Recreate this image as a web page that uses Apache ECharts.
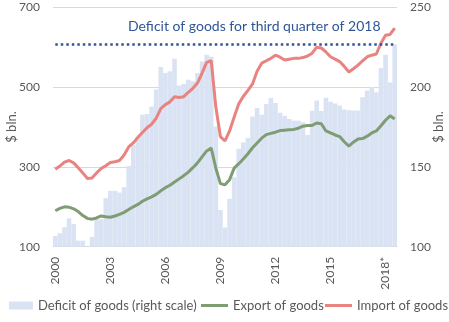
<!DOCTYPE html>
<html>
<head>
<meta charset="utf-8">
<script src="https://cdn.jsdelivr.net/npm/echarts@6/dist/echarts.min.js"></script>
<style>
html,body{margin:0;padding:0;background:#fff;}
#c{width:449px;height:322px;}
</style>
</head>
<body>
<div id="c"></div>
<script>
// Quarterly data 2000Q1 .. 2018Q3
const years = [];
for (let y = 2000; y <= 2018; y++) years.push(y);
const categories = [];
years.forEach(y => { for (let q = 1; q <= 4; q++) categories.push(y + ' Q' + q); });
categories.length = 75;

const tickLabels = ['2000', '2003', '2006', '2009', '2012', '2015', '2018*'];

// Deficit of goods, $ bln (right scale)
const deficit = [
  106.7,108.4,112.2,117.8,114.2,103.8,103.8,100,106.1,117.2,
  117.2,130.4,135,135,133.9,137.3,150.6,163.8,168.7,182.7,
  183.1,187.9,198.5,212.6,208.8,209.9,217.8,201,202,204.6,
  203.6,208.8,216,220.3,219,175.3,123,112,130,143.5,
  161.3,165.3,168.2,181.6,186.9,182.7,189.4,193.2,190,184,
  182,180,179,179,178,170,185.2,191.6,185,193.3,
  190.8,189.8,188.4,186,185.5,185.3,185.3,193.7,197.8,200,
  196.8,212,220.3,202.9,226.8
];

// Export of goods, $ bln (left scale)
const exportsG = [
  190,196,200,199,195,188,178,171,169,172,
  177,175,174,177,181,186,193,200,206,214,
  220,225,231,240,248,254,262,270,278,287,
  298,310,325,340,347,297,258,255,268,297,
  308,320,333,348,360,372,381,384,387,391,
  392,393,394,397,402,404,404,410,408,390,
  385,380,376,363,352,362,370,371,377,385,
  390,403,417,428,420
];

// Import of goods, $ bln (left scale)
const importsG = [
  294,302,312,316,310,298,285,271,272,285,
  296,303,311,313,316,330,350,360,374,386,
  398,407,422,446,456,463,476,474,476,487,
  497,510,535,562,566,450,376,365,390,425,
  458,477,492,508,540,560,566,572,580,575,
  568,570,572,572,574,578,585,600,598,588,
  576,570,564,552,538,546,555,566,576,580,
  583,610,630,632,648
];

const deficitLast = deficit[deficit.length - 1];
const annotation = 'Deficit of goods for third quarter of 2018';

const FONT = 'Lato';
const TXT = '#595959';
const GREEN = '#7F9C74';
const RED = '#E8837F';

const legendText = {fontFamily: FONT, fontSize: 13, color: TXT};

const chart = echarts.init(document.getElementById('c'), null, {renderer: 'canvas'});
chart.setOption({
  animation: false,
  textStyle: {fontFamily: FONT},
  grid: {left: 53, right: 52, top: 7.3, bottom: 75.3, outerBoundsMode: 'none', containLabel: false},
  legend: [
    {data: [{name: 'Deficit of goods (right scale)', icon: 'rect'}], left: 9, top: 299, padding: 0,
     itemWidth: 24, itemHeight: 8, textStyle: legendText},
    {data: [{name: 'Export of goods', icon: 'rect', itemStyle: {color: GREEN}}], left: 201, top: 299, padding: 0,
     itemWidth: 27, itemHeight: 3, textStyle: legendText},
    {data: [{name: 'Import of goods', icon: 'rect', itemStyle: {color: RED}}], left: 325, top: 299, padding: 0,
     itemWidth: 27, itemHeight: 3, textStyle: legendText}
  ],
  xAxis: {
    type: 'category',
    data: categories,
    boundaryGap: true,
    axisLine: {lineStyle: {color: '#D9D9D9', width: 1}},
    axisTick: {show: false},
    axisLabel: {
      interval: 11, rotate: 90, margin: 10, fontSize: 12, color: TXT, fontFamily: FONT,
      formatter: function (v, i) { return tickLabels[Math.round(i / 12)]; }
    },
    splitLine: {show: false}
  },
  yAxis: [
    {
      type: 'value', min: 100, max: 700, interval: 200, position: 'left',
      name: '$ bln.', nameLocation: 'middle', nameGap: 41, nameRotate: 90, nameMoveOverlap: false,
      nameTextStyle: {fontFamily: FONT, fontSize: 13, color: TXT, verticalAlign: 'middle'},
      axisLine: {show: false}, axisTick: {show: false},
      axisLabel: {margin: 13, fontSize: 12, color: TXT, fontFamily: FONT},
      splitLine: {lineStyle: {color: '#D9D9D9', width: 1}}
    },
    {
      type: 'value', min: 100, max: 250, interval: 50, position: 'right',
      name: '$ bln.', nameLocation: 'middle', nameGap: 42, nameRotate: 90, nameMoveOverlap: false,
      nameTextStyle: {fontFamily: FONT, fontSize: 13, color: TXT, verticalAlign: 'middle'},
      axisLine: {show: false}, axisTick: {show: false},
      axisLabel: {margin: 13, fontSize: 12, color: TXT, fontFamily: FONT},
      splitLine: {show: false}
    }
  ],
  graphic: [{
    type: 'text', left: 128, top: 19, z: 100,
    style: {text: annotation, fill: '#2F5597', font: '14px Lato'}
  }],
  series: [
    {
      name: 'Deficit of goods (right scale)', type: 'bar', yAxisIndex: 1,
      data: deficit, barCategoryGap: '0%', barGap: '0%',
      itemStyle: {color: '#DAE3F3'},
      markLine: {
        silent: true, symbol: ['none', 'none'], label: {show: false},
        lineStyle: {color: '#2F5597', width: 2.5, type: [2.5, 3], cap: 'butt'},
        data: [[{coord: [0, deficitLast]}, {coord: [categories.length - 1, deficitLast]}]]
      }
    },
    {
      name: 'Export of goods', type: 'line', yAxisIndex: 0, data: exportsG,
      symbol: 'none', smooth: false,
      lineStyle: {color: GREEN, width: 3}, itemStyle: {color: GREEN}
    },
    {
      name: 'Import of goods', type: 'line', yAxisIndex: 0, data: importsG,
      symbol: 'none', smooth: false,
      lineStyle: {color: RED, width: 3}, itemStyle: {color: RED}
    }
  ]
});
</script>
</body>
</html>
